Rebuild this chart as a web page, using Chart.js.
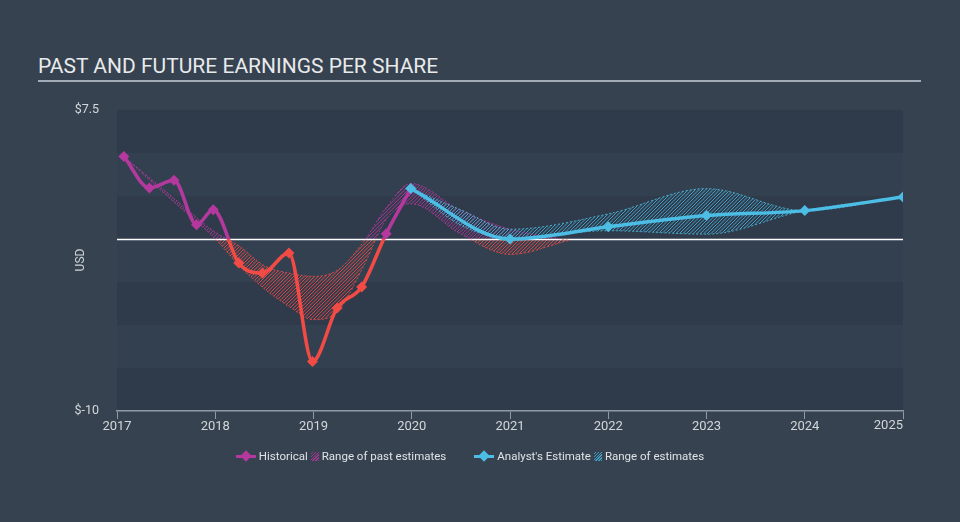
<!DOCTYPE html>
<html>
<head>
<meta charset="utf-8">
<script src="https://cdn.jsdelivr.net/npm/chart.js@4.4.1/dist/chart.umd.min.js"></script>
<style>
  body { margin: 0; background: #36424f; font-family: Roboto, sans-serif; }
  #wrap { position: relative; width: 960px; height: 522px; overflow: hidden; }
  #title { position: absolute; left: 38px; top: 54px; color: #e8eaec; font-size: 21px; }
  #rule { position: absolute; left: 38px; top: 80px; width: 883px; height: 2px; background: #a3acb6; }
  #myChart { position: absolute; left: 0; top: 0; }
  #legend { position: absolute; left: 0; top: 449px; width: 940px; display: flex; justify-content: center; color: #dfe3e6; font-size: 11.5px; }
  .item { display: flex; align-items: center; margin: 0 14px; }
  .mark { position: relative; width: 20px; height: 12px; margin-right: 3px; }
  .mark .ln { position: absolute; left: 0; top: 5px; width: 20px; height: 3px; }
  .mark .dm { position: absolute; left: 6px; top: 2px; width: 8px; height: 8px; transform: rotate(45deg); }
  .hatch { width: 8px; height: 9px; margin: 0 3px 0 3px; }
</style>
</head>
<body>
<div id="wrap">
  <div id="title">PAST AND FUTURE EARNINGS PER SHARE</div>
  <div id="rule"></div>
  <canvas id="myChart" width="960" height="522"></canvas>
  <div id="legend">
    <div class="item">
      <span class="mark"><span class="ln" style="background:#b4389e"></span><span class="dm" style="background:#b4389e"></span></span>
      <span>Historical</span>
      <span class="hatch" style="background:repeating-linear-gradient(135deg, transparent 0 1px, #a0388f 1px 2px)"></span>
      <span>Range of past estimates</span>
    </div>
    <div class="item">
      <span class="mark"><span class="ln" style="background:#4cbde4"></span><span class="dm" style="background:#4cbde4"></span></span>
      <span>Analyst's Estimate</span>
      <span class="hatch" style="background:repeating-linear-gradient(135deg, transparent 0 1px, #3f9fc2 1px 2px)"></span>
      <span>Range of estimates</span>
    </div>
  </div>
</div>
<script>
// values (x = decimal year)
var histX = [2017.07, 2017.33, 2017.58, 2017.81, 2017.98, 2018.24, 2018.48, 2018.75, 2018.99, 2019.24, 2019.49, 2019.74, 2019.99];
var histEps = [4.80, 2.97, 3.41, 0.83, 1.70, -1.40, -1.98, -0.81, -7.12, -4.01, -2.79, 0.31, 2.93];

var estX = [2019.99, 2021, 2022, 2023, 2024, 2025];
var estEps = [2.93, 0.0, 0.71, 1.36, 1.65, 2.44];

var pastRangeX = [2017.07, 2017.5, 2018.0, 2018.25, 2018.5, 2018.75, 2019.0, 2019.25, 2019.5, 2019.75, 2019.99, 2020.5, 2021.0, 2021.6];
var pastHigh = [4.80, 2.75, 0.40, -0.43, -1.55, -1.98, -2.17, -1.79, -0.23, 1.90, 3.23, 1.65, 0.57, -0.08];
var pastLow = [4.80, 2.55, 0.00, -1.59, -2.90, -3.92, -4.69, -4.20, -1.69, 1.22, 2.05, 0.28, -0.90, -0.08];

var estRangeX = [2019.99, 2020.5, 2021, 2022, 2023, 2024, 2025];
var estHigh = [2.93, 1.70, 0.57, 1.46, 2.93, 1.65, 2.44];
var estLow = [2.93, 0.80, 0.04, 0.48, 0.28, 1.65, 2.44];

var xTicks = [2017, 2018, 2019, 2020, 2021, 2022, 2023, 2024, 2025];
var yTicks = [-10, 7.5];

var purple = '#b4389e';
var red = '#f24b45';
var blue = '#4cbde4';

function pts(xs, ys) {
  var out = [];
  for (var i = 0; i < xs.length; i++) out.push({x: xs[i], y: ys[i]});
  return out;
}

function zeroY(chart) {
  return chart.scales.y.getPixelForValue(0);
}

// purple above zero, red below
function splitColor(context, top, bottom) {
  var chart = context.chart;
  var area = chart.chartArea;
  if (!area) return top;
  var z = (zeroY(chart) - area.top) / (area.bottom - area.top);
  z = Math.min(Math.max(z, 0), 1);
  var g = chart.ctx.createLinearGradient(0, area.top, 0, area.bottom);
  g.addColorStop(0, top);
  g.addColorStop(z, top);
  g.addColorStop(z, bottom);
  g.addColorStop(1, bottom);
  return g;
}

// close a dataset's curve to a horizontal edge and clip to it
function clipUnder(ctx, meta, area, edge) {
  var line = meta.dataset, p = meta.data;
  line.updateControlPoints(area, 'x');
  ctx.beginPath();
  line.path(ctx);
  ctx.lineTo(p[p.length - 1].x, edge);
  ctx.lineTo(p[0].x, edge);
  ctx.closePath();
  ctx.clip();
}

function hatchLines(ctx, area, color) {
  var h = area.bottom - area.top;
  ctx.strokeStyle = color;
  ctx.lineWidth = 1;
  ctx.beginPath();
  for (var i = area.left - h; i < area.right; i += 3.5) {
    ctx.moveTo(i, area.bottom);
    ctx.lineTo(i + h, area.top);
  }
  ctx.stroke();
}

// [upper dataset, lower dataset, colour above zero, colour below zero]
var bands = [
  [2, 3, 'rgba(178,55,156,0.9)', 'rgba(238,74,69,0.9)'],
  [4, 5, 'rgba(70,178,218,0.85)', 'rgba(70,178,218,0.85)']
];

var backdrop = {
  id: 'backdrop',
  beforeDraw: function (chart) {
    var ctx = chart.ctx, a = chart.chartArea, y = chart.scales.y;
    for (var v = -10, k = 0; v < 7.5; v += 2.5, k++) {
      var y1 = y.getPixelForValue(v), y2 = y.getPixelForValue(v + 2.5);
      ctx.fillStyle = (k % 2 === 0) ? '#2f3b4a' : '#334050';
      ctx.fillRect(a.left, y2, a.right - a.left, y1 - y2);
    }
  },
  beforeDatasetsDraw: function (chart) {
    var ctx = chart.ctx, a = chart.chartArea;
    var z = zeroY(chart);
    bands.forEach(function (b) {
      var up = chart.getDatasetMeta(b[0]), lo = chart.getDatasetMeta(b[1]);
      [[a.top, z, b[2]], [z, a.bottom, b[3]]].forEach(function (part) {
        ctx.save();
        ctx.beginPath();
        ctx.rect(a.left, part[0], a.right - a.left, part[1] - part[0]);
        ctx.clip();
        clipUnder(ctx, up, a, a.bottom);
        clipUnder(ctx, lo, a, a.top);
        hatchLines(ctx, a, part[2]);
        ctx.restore();
      });
    });
    var zz = Math.round(z) + 0.5;
    ctx.save();
    ctx.strokeStyle = '#ffffff';
    ctx.lineWidth = 1.5;
    ctx.beginPath();
    ctx.moveTo(a.left, zz);
    ctx.lineTo(a.right, zz);
    ctx.stroke();
    ctx.restore();
  },
  afterDraw: function (chart) {
    var ctx = chart.ctx;
    ctx.save();
    ctx.translate(81, 260);
    ctx.rotate(-Math.PI / 2);
    ctx.fillStyle = '#cfd4d9';
    ctx.font = '12px Roboto';
    ctx.textAlign = 'center';
    ctx.textBaseline = 'middle';
    ctx.fillText('USD', 0, 0);
    ctx.restore();
    // last year label sits flush with the end of the axis
    var last = xTicks[xTicks.length - 1];
    var x = chart.scales.x;
    ctx.save();
    ctx.fillStyle = '#d3d7db';
    ctx.font = '13px Roboto';
    ctx.textAlign = 'right';
    ctx.textBaseline = 'middle';
    ctx.fillText(String(last), x.getPixelForValue(last), x.top + 15);
    ctx.restore();
  }
};

Chart.defaults.font.family = 'Roboto';

function edgeSet(label, xs, ys, color, order) {
  return {
    label: label,
    data: pts(xs, ys),
    borderColor: color,
    borderWidth: 1,
    borderDash: [2, 2],
    pointRadius: 0,
    cubicInterpolationMode: 'monotone',
    fill: false,
    order: order
  };
}

var pastEdge = function (c) { return splitColor(c, 'rgba(180,56,158,0.8)', 'rgba(242,75,69,0.8)'); };

var ctx = document.getElementById('myChart').getContext('2d');
var myChart = new Chart(ctx, {
  type: 'line',
  data: {
    datasets: [{
      label: 'Historical',
      data: pts(histX, histEps),
      borderColor: function (c) { return splitColor(c, purple, red); },
      borderWidth: 3.5,
      pointStyle: 'rectRot',
      pointRadius: 5.5,
      pointBorderWidth: 0,
      pointBackgroundColor: histEps.map(function (v) { return v >= 0 ? purple : red; }),
      cubicInterpolationMode: 'monotone',
      fill: false,
      order: 1
    }, {
      label: "Analyst's Estimate",
      data: pts(estX, estEps),
      borderColor: blue,
      borderWidth: 3.5,
      pointStyle: 'rectRot',
      pointRadius: 5.5,
      pointBorderWidth: 0,
      pointBackgroundColor: blue,
      cubicInterpolationMode: 'monotone',
      fill: false,
      order: 0
    },
    edgeSet('Range of past estimates', pastRangeX, pastHigh, pastEdge, 3),
    edgeSet('past low', pastRangeX, pastLow, pastEdge, 3),
    edgeSet('Range of estimates', estRangeX, estHigh, 'rgba(76,189,228,0.8)', 2),
    edgeSet('est low', estRangeX, estLow, 'rgba(76,189,228,0.8)', 2)
    ]
  },
  options: {
    responsive: false,
    animation: false,
    layout: { padding: { top: 110, right: 57, bottom: 81, left: 0 } },
    plugins: {
      legend: { display: false },
      tooltip: { enabled: false }
    },
    scales: {
      x: {
        type: 'linear',
        min: 2017,
        max: 2025,
        afterFit: function (s) { s.height = 30; },
        afterBuildTicks: function (s) { s.ticks = xTicks.map(function (v) { return {value: v}; }); },
        ticks: {
          color: '#d3d7db',
          font: { size: 13 },
          padding: 0,
          maxRotation: 0,
          callback: function (v) { return v === xTicks[xTicks.length - 1] ? '' : String(v); }
        },
        grid: { drawOnChartArea: false, drawTicks: true, tickLength: 8, color: '#8e9aa7' },
        border: { display: true, color: '#8e9aa7', width: 1.5 }
      },
      y: {
        min: -10,
        max: 7.5,
        afterFit: function (s) { s.width = 117; },
        afterBuildTicks: function (s) { s.ticks = yTicks.map(function (v) { return {value: v}; }); },
        ticks: {
          color: '#d3d7db',
          font: { size: 12.5 },
          padding: 10,
          callback: function (v) { return '$' + v; }
        },
        grid: { display: false },
        border: { display: false }
      }
    }
  },
  plugins: [backdrop]
});
</script>
</body>
</html>
